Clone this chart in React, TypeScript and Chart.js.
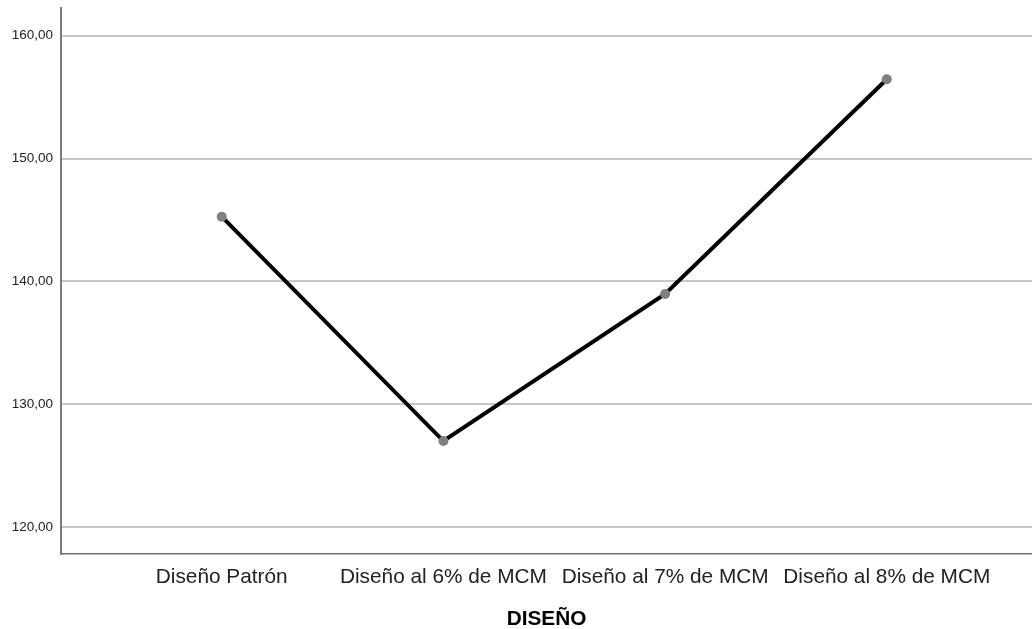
import React, { useEffect, useRef } from "react";
import { Chart, registerables } from "chart.js";

Chart.register(...registerables);

const categories = ["Diseño Patrón", "Diseño al 6% de MCM", "Diseño al 7% de MCM", "Diseño al 8% de MCM"];
const values = [145.27, 127.02, 138.98, 156.45];
const yTicks = [120, 130, 140, 150, 160];
const xTitle = "DISEÑO";

export default function App() {
  const ref = useRef<HTMLCanvasElement | null>(null);
  useEffect(() => {
    if (!ref.current) return;
    const chart = new Chart(ref.current, {
      type: "line",
      data: {
        datasets: [
          {
            data: values.map((v, i) => ({ x: i, y: v })),
            borderColor: "#000000",
            borderWidth: 4,
            pointRadius: 5,
            pointBackgroundColor: "#808080",
            pointBorderWidth: 0,
            pointBorderColor: "#808080",
            tension: 0,
            fill: false,
          },
        ],
      },
      options: {
        animation: false,
        responsive: false,
        maintainAspectRatio: false,
        layout: { autoPadding: false, padding: { top: 8, right: 0, left: 0, bottom: 0 } },
        plugins: { legend: { display: false }, tooltip: { enabled: false } },
        scales: {
          x: {
            type: "linear",
            min: -0.725,
            max: 3.655,
            afterBuildTicks: (s: any) => {
              s.ticks = categories.map((_, i) => ({ value: i }));
            },
            afterFit: (s: any) => {
              s.height = 75;
              s.paddingLeft = 0;
              s.paddingRight = 0;
            },
            grid: { display: false, drawTicks: false },
            border: { display: true, color: "#6e6e6e", width: 1.5 },
            ticks: {
              autoSkip: false,
              maxRotation: 0,
              padding: 11,
              color: "#222222",
              font: { family: "'Liberation Sans', Arial, sans-serif", size: 20.8 },
              callback: (v: any) => categories[Math.round(Number(v))] ?? "",
            },
            title: {
              display: true,
              text: xTitle,
              color: "#000000",
              font: { family: "'Liberation Sans', Arial, sans-serif", size: 20.8, weight: "bold" },
              padding: { top: 0, bottom: -3 },
            },
          },
          y: {
            type: "linear",
            min: 117.83,
            max: 162.25,
            afterBuildTicks: (s: any) => {
              s.ticks = yTicks.map((v) => ({ value: v }));
            },
            afterFit: (s: any) => {
              s.width = 61;
              s.paddingTop = 0;
              s.paddingBottom = 0;
            },
            grid: { color: "#c8c8c8", lineWidth: 2, drawTicks: false },
            border: { display: true, color: "#7a7a7a", width: 2 },
            ticks: {
              padding: 8,
              color: "#222222",
              font: { family: "'Liberation Sans', Arial, sans-serif", size: 13.5 },
              callback: (v: any) => Number(v).toFixed(2).replace(".", ","),
            },
          },
        },
      },
    });
    return () => chart.destroy();
  }, []);
  return (
    <div style={{ position: "fixed", left: 0, top: 0, width: 1032, height: 629, background: "#fff" }}>
      <canvas ref={ref} width={1032} height={629} style={{ width: 1032, height: 629 }} />
    </div>
  );
}
